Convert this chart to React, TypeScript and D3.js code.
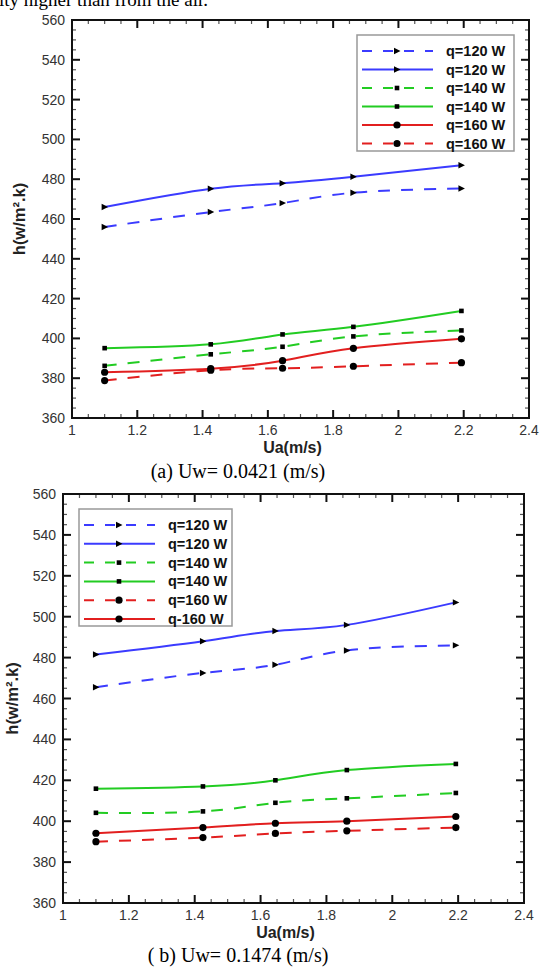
import React from "react";
import * as d3 from "d3";

// Ua values (m/s) where the measurements were taken
const ua = [1.1, 1.425, 1.645, 1.862, 2.193];

// (a) Uw = 0.0421 m/s
const a120Dash = [456, 463.5, 468, 473.2, 475.3];
const a120Solid = [466, 475.2, 478, 481.2, 487];
const a140Dash = [386.2, 392, 395.8, 401, 404];
const a140Solid = [395.1, 397, 402, 405.8, 413.8];
const a160Solid = [383, 384.8, 388.8, 395, 399.8];
const a160Dash = [378.8, 384, 385, 386, 387.8];

// (b) Uw = 0.1474 m/s
const b120Dash = [465.5, 472.5, 476.5, 483.5, 486];
const b120Solid = [481.5, 488, 493, 496, 507];
const b140Dash = [404.1, 404.8, 409, 411.2, 413.8];
const b140Solid = [415.9, 417, 420, 425, 428];
const b160Dash = [390, 392, 394, 395.3, 396.9];
const b160Solid = [394.1, 396.9, 399, 400, 402.3];

const xTicks = [1, 1.2, 1.4, 1.6, 1.8, 2, 2.2, 2.4];
const yTicks = [360, 380, 400, 420, 440, 460, 480, 500, 520, 540, 560];

const BLUE = "#3b3bff";
const GREEN = "#22cc22";
const RED = "#e21f1f";
const sans = "'Liberation Sans', Arial, sans-serif";
const serif = "'Liberation Serif', 'Times New Roman', serif";

type Series = { label: string; values: number[]; color: string; dashed: boolean; marker: string };

const seriesA: Series[] = [
  { label: "q=120 W", values: a120Dash, color: BLUE, dashed: true, marker: "tri" },
  { label: "q=120 W", values: a120Solid, color: BLUE, dashed: false, marker: "tri" },
  { label: "q=140 W", values: a140Dash, color: GREEN, dashed: true, marker: "sq" },
  { label: "q=140 W", values: a140Solid, color: GREEN, dashed: false, marker: "sq" },
  { label: "q=160 W", values: a160Solid, color: RED, dashed: false, marker: "dot" },
  { label: "q=160 W", values: a160Dash, color: RED, dashed: true, marker: "dot" },
];

const seriesB: Series[] = [
  { label: "q=120 W", values: b120Dash, color: BLUE, dashed: true, marker: "tri" },
  { label: "q=120 W", values: b120Solid, color: BLUE, dashed: false, marker: "tri" },
  { label: "q=140 W", values: b140Dash, color: GREEN, dashed: true, marker: "sq" },
  { label: "q=140 W", values: b140Solid, color: GREEN, dashed: false, marker: "sq" },
  { label: "q=160 W", values: b160Dash, color: RED, dashed: true, marker: "dot" },
  { label: "q-160 W", values: b160Solid, color: RED, dashed: false, marker: "dot" },
];

function Marker({ kind, x, y }: { kind: string; x: number; y: number }) {
  if (kind === "tri") {
    return <path d={`M${x - 3},${y - 3.2}L${x + 3.5},${y}L${x - 3},${y + 3.2}Z`} fill="#000" />;
  }
  if (kind === "sq") {
    return <rect x={x - 2.3} y={y - 2.3} width={4.6} height={4.6} fill="#000" />;
  }
  return <circle cx={x} cy={y} r={3.6} fill="#000" />;
}

function Panel({ series, left, right, top, bottom, legend, caption, yTitleX }: any) {
  const x = d3.scaleLinear().domain([1, 2.4]).range([left, right]);
  const y = d3.scaleLinear().domain([360, 560]).range([bottom, top]);
  const line = d3
    .line<number>()
    .x((_, i) => x(ua[i]))
    .y((d) => y(d))
    .curve(d3.curveNatural);

  const xMinor = d3.range(1, 2.4001, 0.05).filter((v) => Math.abs(v * 5 - Math.round(v * 5)) > 0.01);
  const yMinor = d3.range(360, 561, 5).filter((v) => v % 20 !== 0);

  return (
    <g>
      {/* data */}
      {series.map((s: Series, k: number) => (
        <g key={k}>
          <path
            d={line(s.values) || ""}
            fill="none"
            stroke={s.color}
            strokeWidth={2}
            strokeDasharray={s.dashed ? "12 11" : undefined}
          />
          {s.values.map((v, i) => (
            <Marker key={i} kind={s.marker} x={x(ua[i])} y={y(v)} />
          ))}
        </g>
      ))}

      {/* ticks, inward on all four sides */}
      {xTicks.map((t) => (
        <g key={"xt" + t}>
          <line x1={x(t)} x2={x(t)} y1={bottom} y2={bottom - 8} stroke="#111" strokeWidth={2} />
          <line x1={x(t)} x2={x(t)} y1={top} y2={top + 8} stroke="#111" strokeWidth={2} />
          <text x={x(t)} y={bottom + 17} textAnchor="middle" fontFamily={sans} fontSize={14} fill="#333">
            {String(t)}
          </text>
        </g>
      ))}
      {xMinor.map((t) => (
        <g key={"xm" + t}>
          <line x1={x(t)} x2={x(t)} y1={bottom} y2={bottom - 4} stroke="#555" strokeWidth={1.2} />
          <line x1={x(t)} x2={x(t)} y1={top} y2={top + 4} stroke="#555" strokeWidth={1.2} />
        </g>
      ))}
      {yTicks.map((t) => (
        <g key={"yt" + t}>
          <line x1={left} x2={left + 8} y1={y(t)} y2={y(t)} stroke="#111" strokeWidth={2} />
          <line x1={right} x2={right - 8} y1={y(t)} y2={y(t)} stroke="#111" strokeWidth={2} />
          <text x={left - 7} y={y(t) + 5} textAnchor="end" fontFamily={sans} fontSize={14} fill="#333">
            {String(t)}
          </text>
        </g>
      ))}
      {yMinor.map((t) => (
        <g key={"ym" + t}>
          <line x1={left} x2={left + 4} y1={y(t)} y2={y(t)} stroke="#555" strokeWidth={1.2} />
          <line x1={right} x2={right - 4} y1={y(t)} y2={y(t)} stroke="#555" strokeWidth={1.2} />
        </g>
      ))}
      <rect x={left} y={top} width={right - left} height={bottom - top} fill="none" stroke="#111" strokeWidth={2} />

      {/* axis titles */}
      <text x={(left + right) / 2 - 8} y={bottom + 35} textAnchor="middle" fontFamily={sans} fontWeight="bold" fontSize={16} fill="#222">
        Ua(m/s)
      </text>
      <text
        transform={`translate(${yTitleX},${(top + bottom) / 2}) rotate(-90)`}
        textAnchor="middle"
        fontFamily={sans}
        fontWeight="bold"
        fontSize={16.5}
        fill="#222"
      >
        h(w/m².k)
      </text>

      {/* legend */}
      <rect x={legend.x} y={legend.y} width={legend.w} height={legend.h} fill="#fff" stroke="#999" strokeWidth={1.5} />
      {series.map((s: Series, k: number) => {
        const ry = legend.y + 16 + k * legend.step;
        return (
          <g key={"lg" + k}>
            <line
              x1={legend.x + 5}
              x2={legend.x + 76}
              y1={ry}
              y2={ry}
              stroke={s.color}
              strokeWidth={2}
              strokeDasharray={s.dashed ? "10 11" : undefined}
            />
            <Marker kind={s.marker} x={legend.x + 40} y={ry} />
            <text x={legend.x + 89} y={ry + 5} fontFamily={sans} fontWeight="bold" fontSize={14.5} fill="#111">
              {s.label}
            </text>
          </g>
        );
      })}

      <text x={238} y={caption.y} textAnchor="middle" fontFamily={serif} fontSize={20} fill="#000">
        {caption.text}
      </text>
    </g>
  );
}

export default function App() {
  return (
    <svg width={542} height={971} style={{ position: "absolute", left: 0, top: 0, background: "#fff" }}>
      <rect width={542} height={971} fill="#fff" />
      <text x={-1} y={6} fontFamily={serif} fontSize={19} fill="#000">
        ity higher than from the air.
      </text>
      <Panel
        series={seriesA}
        left={72}
        right={529}
        top={20}
        bottom={418}
        yTitleX={25}
        legend={{ x: 357, y: 35, w: 157, h: 116, step: 18.5 }}
        caption={{ y: 478, text: "(a) Uw= 0.0421 (m/s)" }}
      />
      <Panel
        series={seriesB}
        left={63}
        right={524}
        top={494}
        bottom={903}
        yTitleX={18}
        legend={{ x: 79, y: 509, w: 153, h: 117, step: 18.8 }}
        caption={{ y: 962, text: "( b) Uw= 0.1474 (m/s)" }}
      />
    </svg>
  );
}
